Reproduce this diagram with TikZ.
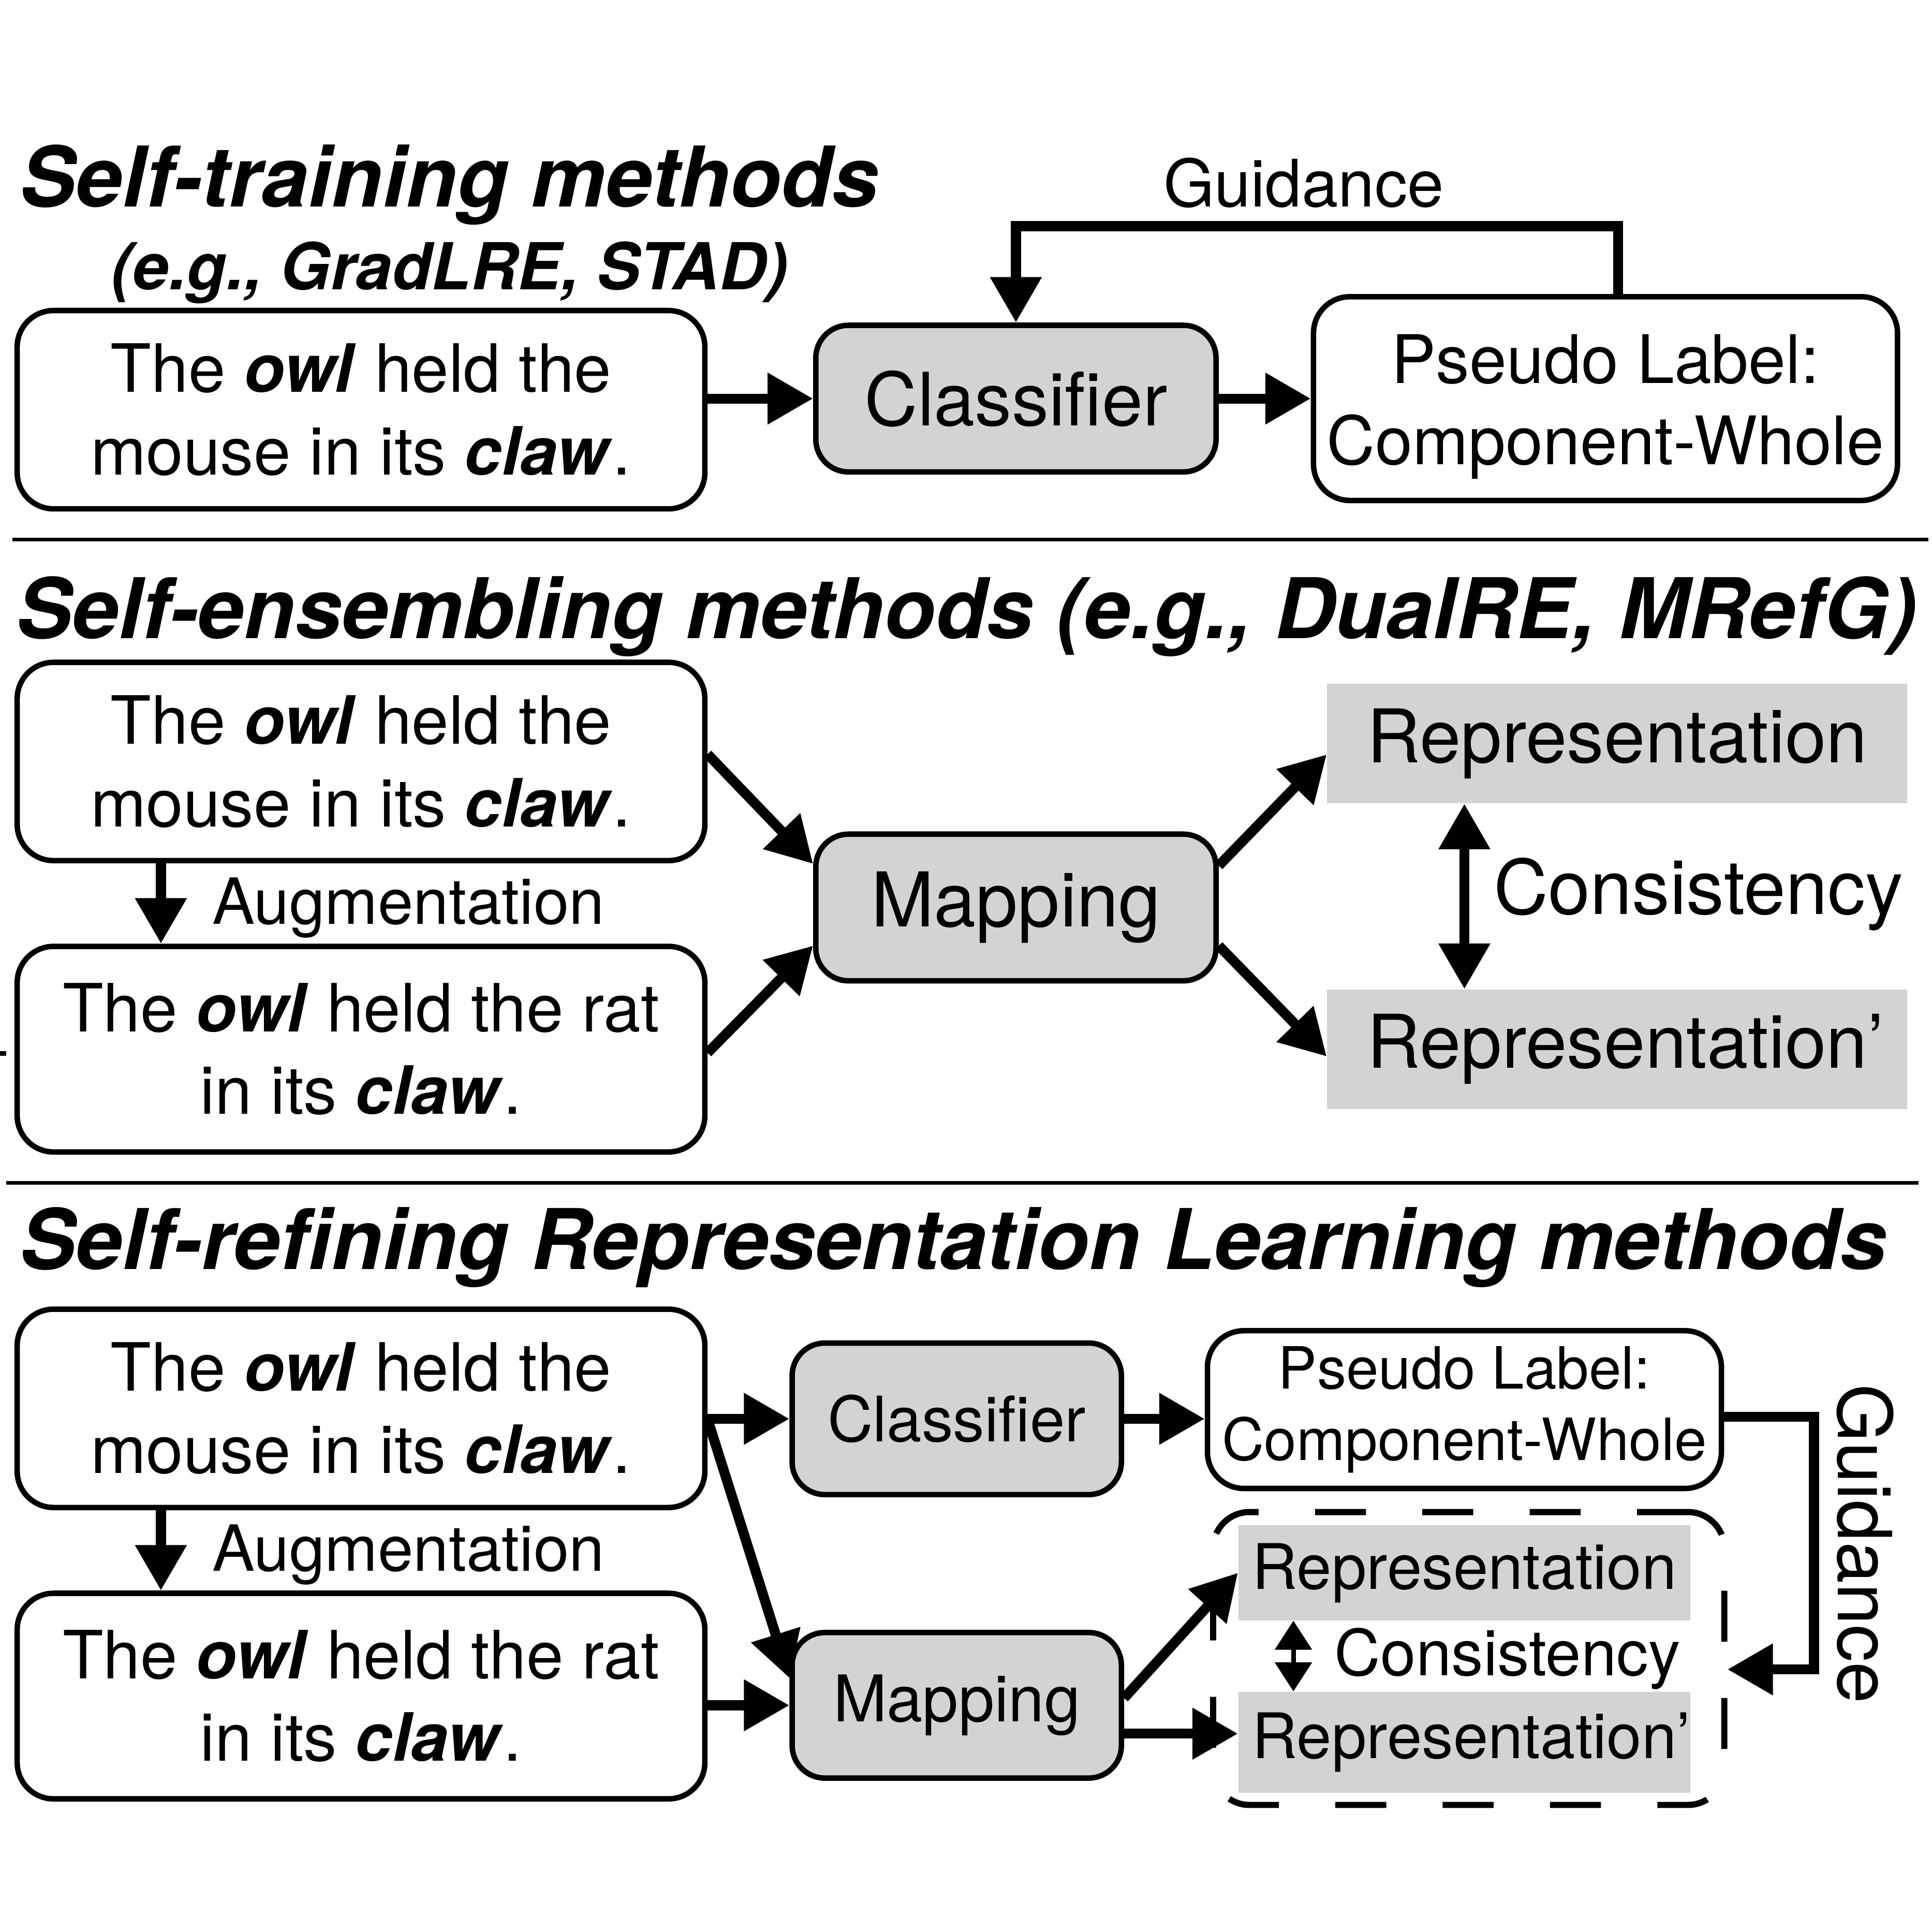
\documentclass[tikz,border=0pt]{standalone}
\usepackage{fontspec}
\setmainfont{TeX Gyre Heros}
\usepackage{tikz}
\usetikzlibrary{arrows.meta}

\definecolor{boxgray}{RGB}{211,211,211}
\newcommand{\ent}[1]{\textbf{\textit{#1}}}

\tikzset{
  sentbox/.style={draw, line width=3pt, rounded corners=20pt, fill=white, align=center,
    inner sep=0pt, minimum width=378pt, font=\fontsize{36.6}{45.4}\selectfont},
  grayblock/.style={draw, line width=3pt, rounded corners=18pt, fill=boxgray, align=center, inner sep=0pt},
  labelbox/.style={draw, line width=3pt, rounded corners=20pt, fill=white, align=center, inner sep=0pt},
  repblock/.style={fill=boxgray, inner sep=0pt},
  groupbox/.style={draw, line width=3.4pt, dash pattern=on 28pt off 31pt, rounded corners=20pt},
  flow/.style={line width=5.5pt, -{Triangle[length=25pt,width=27pt]}},
  bothflow/.style={line width=5.5pt, {Triangle[length=25pt,width=27pt]}-{Triangle[length=25pt,width=27pt]}},
  smallboth/.style={line width=2.5pt, {Triangle[length=16pt,width=20pt]}-{Triangle[length=16pt,width=20pt]}},
  heading/.style={anchor=base west, font=\fontsize{46}{55}\selectfont\bfseries\itshape},
}

\begin{document}
\begin{tikzpicture}[x=0.02381cm, y=-0.02381cm]
  \useasboundingbox (0,0) rectangle (1568,1568);

  % Self-training
  \node[heading] (t1) at (11,168) {Self-training methods};
  \node[anchor=base west, font=\fontsize{35.6}{42}\selectfont\bfseries\itshape] (t1b) at (85,235) {(e.g., GradLRE, STAD)};
  \node[sentbox, minimum height=109pt] (s1) at (293,332.5) {The \ent{owl} held the\\mouse in its \ent{claw}.};
  \node[grayblock, minimum width=220pt, minimum height=80.6pt, font=\fontsize{40.5}{48}\selectfont] (cls1) at (824.5,323.5) {Classifier};
  \node[labelbox, minimum width=321pt, minimum height=112pt, font=\fontsize{36.8}{44.7}\selectfont] (pl1) at (1303,323.5)
    {\raisebox{-5pt}[\height][\depth]{\begin{tabular}{@{}c@{}}Pseudo Label:\\Component-Whole\end{tabular}}};
  \node[anchor=base, font=\fontsize{36}{43}\selectfont] (g1) at (1058,168) {Guidance};

  \draw[flow] (cls1.west -| s1.east) -- (cls1.west);
  \draw[flow] (cls1.east) -- (pl1.west |- cls1.east);
  \draw[flow] ([xshift=7pt]pl1.north) -- ++(0,-55) -| (cls1.north);

  \draw[line width=2pt] (10,438) -- (1565,438);

  % Self-ensembling
  \node[heading] (t2) at (8,518) {Self-ensembling methods (e.g., DualRE, MRefG)};
  \node[sentbox, minimum height=109pt] (s2a) at (293,618) {The \ent{owl} held the\\mouse in its \ent{claw}.};
  \node[sentbox, minimum height=113pt] (s2b) at (293,851.5) {The \ent{owl} held the rat\\in its \ent{claw}.};
  \node[anchor=base west, font=\fontsize{35}{42}\selectfont] (aug1) at (167,750) {Augmentation};
  \node[grayblock, minimum width=220pt, minimum height=80.6pt, font=\fontsize{41.5}{50}\selectfont] (map1) at (824.5,736.5) {Mapping};
  \node[repblock, minimum width=319pt, minimum height=65.7pt, font=\fontsize{40.7}{48}\selectfont] (rep1) at (1312.5,603.5) {Representation};
  \node[repblock, minimum width=319pt, minimum height=65.7pt, font=\fontsize{40.7}{48}\selectfont] (rep2) at (1312.5,851.5) {Representation\rlap{’}};
  \node[anchor=base west, font=\fontsize{41.5}{50}\selectfont] (con1) at (1207,742) {Consistency};

  \draw[flow] ([xshift=-110pt]s2a.south) -- ([xshift=-110pt]s2b.north);
  \draw[flow] ([yshift=4pt]s2a.east) -- ([yshift=24pt]map1.west);
  \draw[flow] ([yshift=-2pt]s2b.east) -- ([yshift=-21pt]map1.west);
  \draw[flow] ([yshift=23pt]map1.east) -- ([yshift=-6pt]rep1.west);
  \draw[flow] ([yshift=-21pt]map1.east) -- ([yshift=-4pt]rep2.west);
  \draw[bothflow] ([xshift=-84pt]rep1.south) -- ([xshift=-84pt]rep2.north);
  \draw[line width=2.7pt] (0,855) -- (5,855);

  \draw[line width=2pt] (5,960) -- (1557,960);

  % Self-refining
  \node[heading] (t3) at (11,1030) {Self-refining Representation Learning methods};
  \node[sentbox, minimum height=109pt] (s3a) at (293,1143) {The \ent{owl} held the\\mouse in its \ent{claw}.};
  \node[sentbox, minimum height=113pt] (s3b) at (293,1376.5) {The \ent{owl} held the rat\\in its \ent{claw}.};
  \node[anchor=base west, font=\fontsize{35}{42}\selectfont] (aug2) at (167,1275) {Augmentation};
  \node[grayblock, minimum width=181pt, minimum height=83.3pt, font=\fontsize{34.5}{41}\selectfont] (cls2) at (776.5,1151.5) {Classifier};
  \node[labelbox, minimum width=282.5pt, minimum height=86.7pt, font=\fontsize{32}{39.3}\selectfont] (pl2) at (1188.5,1144) {Pseudo Label:\\Component-Whole};
  \node[grayblock, minimum width=181pt, minimum height=80pt, font=\fontsize{35.4}{42}\selectfont] (map2) at (776.5,1384) {Mapping};
  \node[groupbox, minimum width=281pt, minimum height=161pt] (grp) at (1192,1346) {};
  \node[repblock, minimum width=248.6pt, minimum height=52.2pt, font=\fontsize{34.5}{41}\selectfont] (rep3) at (1188.5,1276.5) {Representation};
  \node[repblock, minimum width=248.6pt, minimum height=55.5pt, font=\fontsize{34.5}{41}\selectfont] (rep4) at (1188.5,1414) {Representation\rlap{’}};
  \node[anchor=base west, font=\fontsize{35}{42}\selectfont] (con2) at (1078,1360) {Consistency};
  \node[rotate=-90, font=\fontsize{41}{49}\selectfont] (g2) at (1514,1253) {Guidance};
  \coordinate (m2out) at ([yshift=-15.6pt]map2.east);

  \draw[flow] ([xshift=-110pt]s3a.south) -- ([xshift=-110pt]s3b.north);
  \draw[flow] (cls2.west -| s3a.east) -- (cls2.west);
  \draw[flow] (cls2.east) -- (pl2.west |- cls2.east);
  \draw[flow] ([yshift=-6pt]s3a.east) -- ([yshift=15pt]map2.west);
  \draw[flow] (map2.west -| s3b.east) -- (map2.west);
  \draw[flow] ([yshift=4pt]map2.east) -- (rep3.west);
  \draw[flow] (m2out) -- (rep4.west |- m2out);
  \draw[smallboth] ([xshift=-94pt]rep3.south) -- ([xshift=-94pt]rep4.north);
  \draw[flow] ([yshift=-4pt]pl2.east) -- ++(73,0) |- ([yshift=-6pt]grp.east);
\end{tikzpicture}
\end{document}
